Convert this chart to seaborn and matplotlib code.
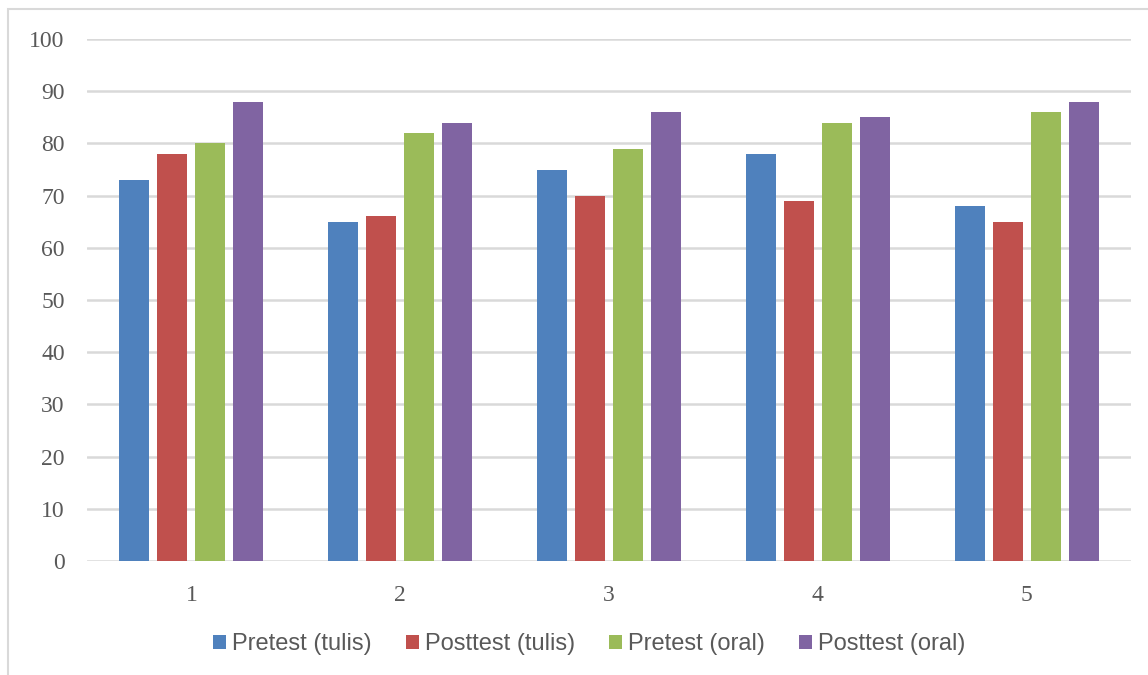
import matplotlib
matplotlib.use("Agg")
import matplotlib.pyplot as plt
from matplotlib.patches import Rectangle, Patch
import seaborn as sns
import pandas as pd

categories = ["1", "2", "3", "4", "5"]
series_names = ["Pretest (tulis)", "Posttest (tulis)", "Pretest (oral)", "Posttest (oral)"]
pretest_tulis = [73, 65, 75, 78, 68]
posttest_tulis = [78, 66, 70, 69, 65]
pretest_oral = [80, 82, 79, 84, 86]
posttest_oral = [88, 84, 86, 85, 88]
colors = ["#4F81BD", "#C0504D", "#9BBB59", "#8064A2"]

rows = []
for name, vals in zip(series_names, [pretest_tulis, posttest_tulis, pretest_oral, posttest_oral]):
    for c, v in zip(categories, vals):
        rows.append({"cat": c, "series": name, "value": v})
df = pd.DataFrame(rows)

sns.set_theme(style="white")
tick_font = "Liberation Serif"
legend_font = "Liberation Sans"

fig = plt.figure(figsize=(11.48, 6.75), dpi=100)
ax = fig.add_axes([87 / 1148, 114 / 675, (1131 - 87) / 1148, (561 - 39) / 675])

sns.barplot(data=df, x="cat", y="value", hue="series", order=categories,
            hue_order=series_names, palette=colors, width=0.727, gap=0.21,
            saturation=1, ax=ax, legend=False, linewidth=0)

ax.set_ylim(0, 100)
ax.set_xlim(-0.5, 4.5)
ax.set_yticks(range(0, 101, 10))
ax.yaxis.grid(True, color="#D9D9D9", linewidth=1.8)
ax.set_axisbelow(True)
for s in ax.spines.values():
    s.set_visible(False)
ax.set_xlabel("")
ax.set_ylabel("")
ax.tick_params(axis="both", length=0, labelsize=17, colors="#595959")
ax.tick_params(axis="y", pad=16)
ax.tick_params(axis="x", pad=17)
for lab in ax.get_xticklabels() + ax.get_yticklabels():
    lab.set_fontfamily(tick_font)

handles = [Patch(facecolor=c, edgecolor="none") for c in colors]
leg = fig.legend(handles, series_names, loc="center", bbox_to_anchor=(589 / 1148, 1 - 644 / 675),
                 ncol=4, frameon=False, handlelength=0.55, handleheight=0.55,
                 handletextpad=0.25, columnspacing=1.45,
                 prop={"family": legend_font, "size": 17})
for t in leg.get_texts():
    t.set_color("#595959")

fig.patches.append(Rectangle((8 / 1148, -0.1), 1.2, 1 - 9 / 675 + 0.1,
                             transform=fig.transFigure, fill=False,
                             edgecolor="#D9D9D9", linewidth=1.5))

fig.savefig("out.png", dpi=100)
